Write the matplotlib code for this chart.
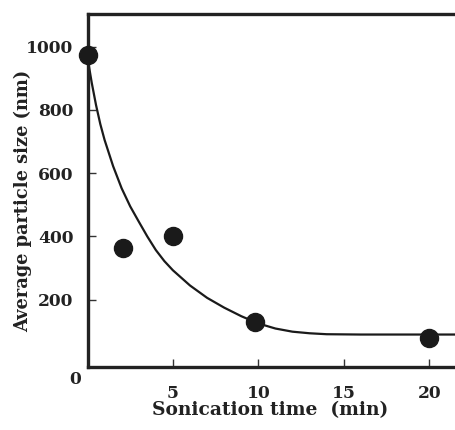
import matplotlib
matplotlib.use("Agg")
import matplotlib.pyplot as plt

# measured data points
time_min = [0, 2.1, 5, 9.8, 20]
size_nm = [973, 362, 402, 130, 80]

# fitted curve
curve_t = [0, 0.25, 0.5, 0.75, 1, 1.5, 2, 2.5, 3, 3.5, 4, 4.5, 5, 6, 7, 8, 9, 10, 11, 12, 13, 14, 16, 18, 20, 22]
curve_y = [965, 885, 815, 755, 705, 622, 552, 495, 447, 400, 357, 322, 293, 245, 206, 175, 148, 125, 109, 99, 94, 91, 90, 90, 90, 90]

xticks = [5, 10, 15, 20]
yticks = [200, 400, 600, 800, 1000]

W, H = 455, 430
fig = plt.figure(figsize=(W / 100, H / 100), dpi=100)
left, right_px = 87.5, 456.5
bottom_px, top_px = 367, 14
ax = fig.add_axes([left / W, (H - bottom_px) / H, (right_px - left) / W, (bottom_px - top_px) / H])

ax.plot(curve_t, curve_y, color="#1a1a1a", lw=1.6, zorder=2)
ax.plot(time_min, size_nm, "o", color="#1a1a1a", markersize=13, zorder=3, clip_on=False)

ax.set_xlim(0, 21.6)
ax.set_ylim(-12.6, 1103)
ax.set_xticks(xticks)
ax.set_yticks(yticks)

font = dict(family="DejaVu Serif", weight="bold")
ax.set_xticklabels([str(t) for t in xticks], fontsize=12.3, **font, color="#222222")
ax.set_yticklabels([str(t) for t in yticks], fontsize=12.3, **font, color="#222222")
ax.tick_params(axis="x", direction="in", length=6, width=1, pad=13, colors="#333333")
ax.tick_params(axis="y", direction="in", length=6, width=1, pad=10, colors="#333333")
for lab in ax.get_xticklabels() + ax.get_yticklabels():
    lab.set_color("#222222")

for s in ["left", "bottom", "top"]:
    ax.spines[s].set_linewidth(2.4)
    ax.spines[s].set_color("#222222")
ax.spines["right"].set_visible(False)

fig.text(75 / W, 1 - 380 / H, "0", ha="center", va="center", fontsize=12.3, color="#222222", **font)
fig.text(270 / W, 1 - 410 / H, "Sonication time  (min)", ha="center", va="center", fontsize=13.4, color="#222222", **font)
fig.text(23 / W, 1 - 201 / H, "Average particle size (nm)", ha="center", va="center", rotation=90, fontsize=12.8, color="#222222", **font)

fig.savefig("out.png", dpi=100)
